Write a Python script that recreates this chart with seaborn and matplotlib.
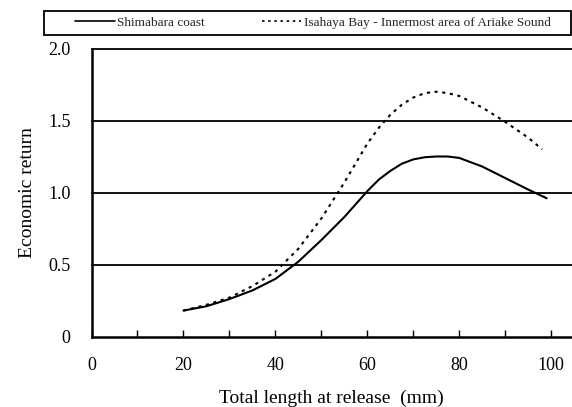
import matplotlib
matplotlib.use("Agg")
import matplotlib.pyplot as plt
import seaborn as sns
import pandas as pd
from matplotlib.ticker import MultipleLocator
from matplotlib.lines import Line2D
from matplotlib.patches import Rectangle

# Data
x_shimabara = [20, 25, 30, 35, 40, 45, 50, 55, 60, 62.5, 65, 67.5, 70, 72.5, 75, 77.5,
               80, 85, 90, 95, 99]
y_shimabara = [0.18, 0.21, 0.26, 0.32, 0.40, 0.52, 0.67, 0.83, 1.01, 1.09, 1.15, 1.20,
               1.23, 1.245, 1.25, 1.25, 1.24, 1.18, 1.10, 1.02, 0.96]
x_isahaya = [20, 25, 30, 35, 40, 45, 50, 55, 60, 62.5, 65, 67.5, 70, 72.5, 75, 77.5,
             80, 85, 90, 95, 98]
y_isahaya = [0.18, 0.22, 0.27, 0.35, 0.45, 0.61, 0.82, 1.07, 1.34, 1.45, 1.54, 1.61,
             1.66, 1.69, 1.70, 1.69, 1.67, 1.59, 1.49, 1.38, 1.30]
series_names = ["Shimabara coast", "Isahaya Bay - Innermost area of Ariake Sound"]
y_ticks = [0, 0.5, 1.0, 1.5, 2.0]
y_tick_labels = ["0", "0.5", "1.0", "1.5", "2.0"]
x_ticks = [0, 20, 40, 60, 80, 100]

df = pd.concat([
    pd.DataFrame({"x": x_shimabara, "y": y_shimabara, "series": series_names[0]}),
    pd.DataFrame({"x": x_isahaya, "y": y_isahaya, "series": series_names[1]}),
])

sns.set_theme(style="white")
plt.rcParams["font.family"] = ["Liberation Serif", "DejaVu Serif"]

W, H = 572, 407
fig = plt.figure(figsize=(W / 100, H / 100), dpi=100)
ax = fig.add_axes([91.5 / W, (H - 336.5) / H, (W - 91.5) / W, 288 / H])

dot = (1.5, 2.2)
sns.lineplot(data=df, x="x", y="y", hue="series", style="series",
             palette=["black", "black"],
             dashes={series_names[0]: "", series_names[1]: dot},
             estimator=None, sort=True, linewidth=1.5, ax=ax, legend=False)

ax.set_xlim(0, 104.5)
ax.set_ylim(0, 2.0)
ax.set_yticks(y_ticks)
ax.set_yticklabels(y_tick_labels)
ax.set_xticks(x_ticks)
ax.xaxis.set_minor_locator(MultipleLocator(10))
for yv in y_ticks[1:]:
    ax.axhline(yv, color="black", linewidth=1.3, zorder=0, clip_on=False)

ax.spines["right"].set_visible(False)
ax.spines["top"].set_visible(False)
ax.spines["left"].set_color("black")
ax.spines["left"].set_linewidth(1.8)
ax.spines["bottom"].set_color("black")
ax.spines["bottom"].set_linewidth(1.8)

ax.tick_params(axis="x", which="both", direction="in", length=5, width=1.0,
               colors="black", pad=15, labelsize=13, bottom=True)
ax.tick_params(axis="y", which="both", length=0, pad=15, labelsize=13, colors="black")
ax.set_xlabel("Total length at release  (mm)", fontsize=14, labelpad=11, color="black")
ax.set_ylabel("Economic return", fontsize=14, labelpad=9, color="black")

# Legend box above the plot
fig.add_artist(Rectangle((44 / W, 1 - 35 / H), (571 - 44) / W, 24 / H,
                         transform=fig.transFigure, fill=False,
                         edgecolor="black", linewidth=1.3))
handles = [Line2D([], [], color="black", linewidth=1.2),
           Line2D([], [], color="black", linewidth=1.2, linestyle=(0, dot))]
fig.legend(handles, series_names, loc="center left",
           bbox_to_anchor=(75 / W, 1 - 23 / H),
           ncol=2, fontsize=9.5, frameon=False,
           handlelength=3.0, handletextpad=0.2, columnspacing=4.3,
           borderpad=0, borderaxespad=0)

fig.savefig("out.png", dpi=100)
